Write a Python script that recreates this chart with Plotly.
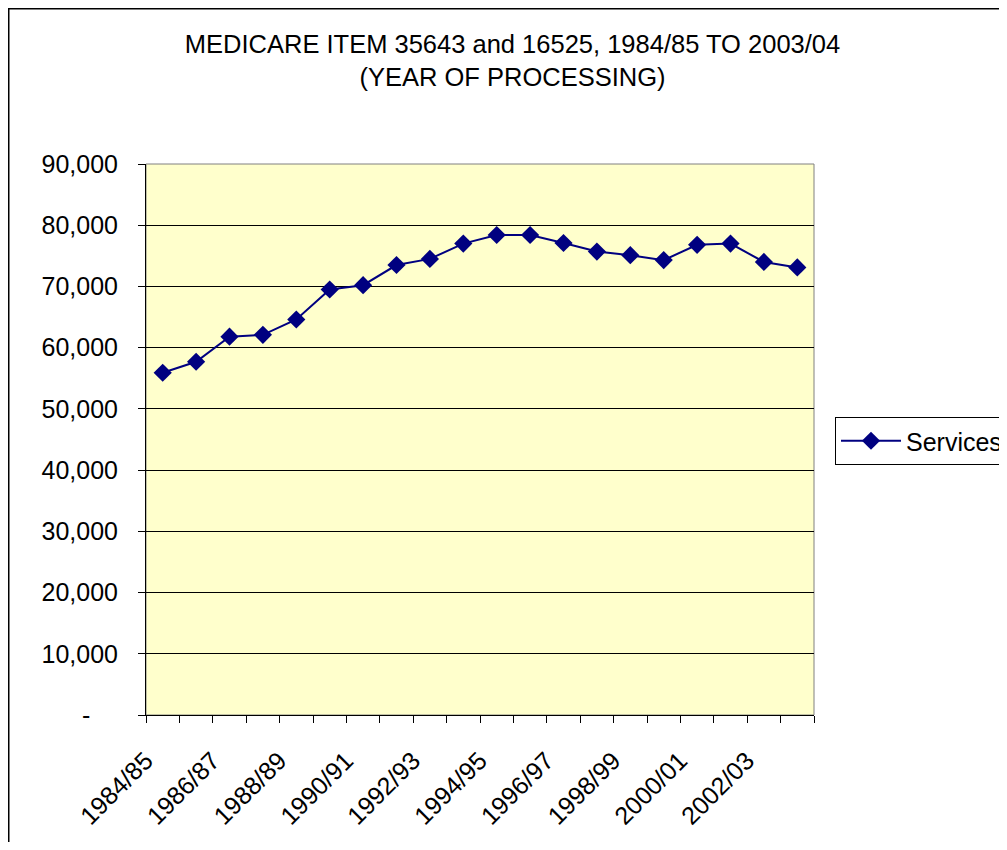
import plotly.graph_objects as go

years = ["1984/85", "1985/86", "1986/87", "1987/88", "1988/89", "1989/90", "1990/91",
         "1991/92", "1992/93", "1993/94", "1994/95", "1995/96", "1996/97", "1997/98",
         "1998/99", "1999/00", "2000/01", "2001/02", "2002/03", "2003/04"]
services = [55900, 57700, 61800, 62100, 64600, 69500, 70200, 73500, 74500, 77000,
            78400, 78400, 77100, 75700, 75100, 74300, 76800, 77000, 74000, 73100]
y_ticks = [0, 10000, 20000, 30000, 40000, 50000, 60000, 70000, 80000, 90000]
y_labels = ["-\u00a0\u00a0\u00a0\u00a0"] + [f"{v:,}" for v in y_ticks[1:]]
x_labels = [y if i % 2 == 0 else "" for i, y in enumerate(years)]

FONT = "Liberation Sans, Arial, sans-serif"
OFF = 8  # page body margin
W, H = 999, 834
# plot area in page pixels of the reference
L, R, T, B = 146 - OFF, 814 - OFF, 164 - OFF, 715 - OFF

def px_x(p):
    return (p - OFF - L) / (R - L)

def px_y(p):
    return (B - (p - OFF)) / (B - T)

fig = go.Figure()
fig.add_trace(go.Scatter(
    x=years, y=services, mode="lines+markers", name="Services",
    line=dict(color="#000080", width=2),
    marker=dict(symbol="diamond", size=14, color="#000080"),
))

fig.update_layout(
    width=W, height=H,
    margin=dict(l=L, r=W - R, t=T, b=H - B, autoexpand=False),
    paper_bgcolor="white", plot_bgcolor="#FFFFCC",
    font=dict(family=FONT, size=25, color="black"),
    title=dict(
        text="MEDICARE ITEM 35643 and 16525, 1984/85 TO 2003/04<br>(YEAR OF PROCESSING)",
        x=(512.5 - OFF) / W, xanchor="center", xref="container",
        y=1 - 45 / H, yanchor="top", yref="container",
        font=dict(family=FONT, size=25.5, color="black"),
    ),
    showlegend=True,
    legend=dict(
        x=px_x(835), xanchor="left", y=px_y(417), yanchor="top",
        bgcolor="white", bordercolor="black", borderwidth=1,
        font=dict(family=FONT, size=25, color="black"),
        itemwidth=60, tracegroupgap=0,
    ),
    xaxis=dict(
        type="category", range=[-0.5, len(years) - 0.5],
        tickmode="array", tickvals=years, ticktext=x_labels,
        tickson="boundaries", ticks="outside", ticklen=7, tickcolor="black",
        tickangle=-45, showgrid=False, zeroline=False,
        showline=True, linecolor="black", linewidth=1,
        ticklabelstandoff=20, ticklabelshift=-17,
        tickfont=dict(family=FONT, size=25, color="black"),
    ),
    yaxis=dict(
        range=[0, 90000], tickmode="array", tickvals=y_ticks, ticktext=y_labels,
        ticks="outside", ticklen=7, tickcolor="black",
        showgrid=True, gridcolor="black", gridwidth=1, zeroline=False,
        showline=True, linecolor="black", linewidth=1,
        ticklabelstandoff=15,
        tickfont=dict(family=FONT, size=25, color="black"),
    ),
)

# plot area border (grey top/right)
fig.add_shape(type="rect", xref="paper", yref="paper", x0=0, x1=1, y0=0, y1=1,
              line=dict(color="#808080", width=1), layer="below")
# outer chart frame
fig.add_shape(type="rect", xref="paper", yref="paper",
              x0=px_x(OFF), x1=px_x(1030), y0=px_y(880), y1=px_y(OFF),
              line=dict(color="black", width=3))

fig.write_html("out.html")
